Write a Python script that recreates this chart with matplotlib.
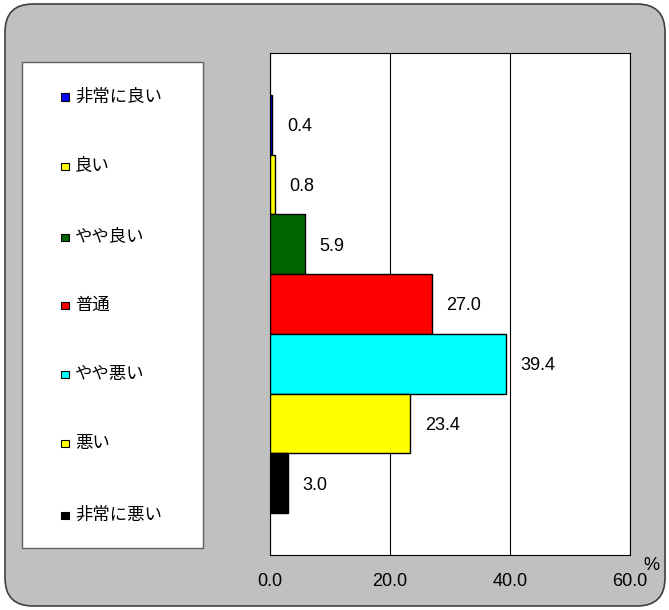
import matplotlib
matplotlib.use('Agg')
import matplotlib.pyplot as plt
import matplotlib.patches as mpatches

plt.rcParams['font.family'] = ['Liberation Sans', 'Noto Sans CJK JP', 'DejaVu Sans']

# data
cats   = ['非常に良い', '良い', 'やや良い', '普通', 'やや悪い', '悪い', '非常に悪い']
values = [0.4, 0.8, 5.9, 27.0, 39.4, 23.4, 3.0]
colors = ['#0000FF', '#FFFF00', '#006600', '#FF0000', '#00FFFF', '#FFFF00', '#000000']
xticks = [0, 20, 40, 60]

W, H = 6.69, 6.10
fig = plt.figure(figsize=(W, H), dpi=100)
fig.patch.set_facecolor('white')

# rounded gray panel (inches)
bg = mpatches.FancyBboxPatch((0.05, 0.04), 6.60, 6.02,
                             boxstyle='round,pad=0,rounding_size=0.28',
                             transform=fig.dpi_scale_trans, facecolor='#C0C0C0',
                             edgecolor='#404040', lw=1.2, zorder=-2)
fig.patches.append(bg)

# legend box
lg = mpatches.Rectangle((0.22, H - 5.48), 1.81, 4.86, transform=fig.dpi_scale_trans,
                        facecolor='white', edgecolor='#606060', lw=1.0, zorder=-1)
fig.patches.append(lg)
leg_y = [97, 166, 237, 305, 374, 443, 515]
for c, col, yp in zip(cats, colors, leg_y):
    sq = mpatches.Rectangle((0.61, H - yp / 100 - 0.04), 0.075, 0.075,
                            transform=fig.dpi_scale_trans, facecolor=col,
                            edgecolor='black', lw=0.8, zorder=2)
    fig.patches.append(sq)
    fig.text(0.75 / W, 1 - yp / 610, c, fontsize=12.5, va='center', ha='left',
             family=['Noto Sans CJK JP', 'DejaVu Sans'])

# plot area
ax = fig.add_axes([270 / 669, 1 - 555 / 610, 360 / 669, 502 / 610])
ax.set_zorder(5)
ax.set_facecolor('white')
y = list(range(len(values)))
ax.barh(y, values, height=1.0, color=colors, edgecolor='black', lw=1.0, zorder=3)
for yi, v in zip(y, values):
    ax.text(v + 2.4, yi + 0.03, f'{v:.1f}', va='center', ha='left', fontsize=13)
ax.set_xlim(0, 60)
ax.set_ylim(7.2, -1.2)
ax.set_xticks(xticks)
ax.set_xticklabels([f'{t:.1f}' for t in xticks], fontsize=13)
ax.set_yticks([])
ax.tick_params(axis='x', length=0, pad=13)
ax.grid(axis='x', color='black', lw=0.8)
ax.set_axisbelow(True)
for sp in ax.spines.values():
    sp.set_color('black')
    sp.set_linewidth(0.8)
fig.text(651 / 669, 1 - 565 / 610, '%', fontsize=13, ha='center', va='center')

plt.savefig('out.png', dpi=100, facecolor='white')
